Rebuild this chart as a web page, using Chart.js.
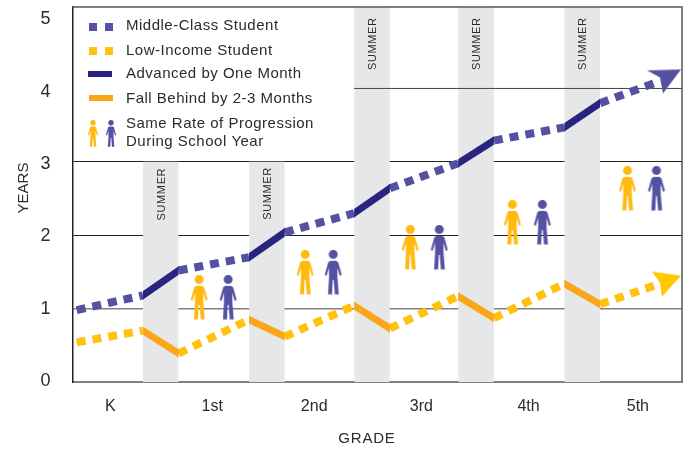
<!DOCTYPE html>
<html>
<head>
<meta charset="utf-8">
<style>
  html, body { margin: 0; padding: 0; background: #fff; }
  canvas { display: block; }
</style>
<script src="https://cdn.jsdelivr.net/npm/chart.js@4"></script>
</head>
<body>
<canvas id="gradeChart" width="688" height="449"></canvas>
<script>
const GRADE_LABELS = ['K', '1st', '2nd', '3rd', '4th', '5th'];
const GRADE_TICKS = [0.36, 1.33, 2.30, 3.32, 4.34, 5.38];
const YEAR_TICKS = [0, 1, 2, 3, 4, 5];

// x positions where the lines change between school year and summer
const LINE_X = [0.04, 0.67, 1.01, 1.68, 2.02, 2.68, 3.02, 3.67, 4.01, 4.68, 5.02, 5.55];
const MIDDLE_YEARS = [0.98, 1.18, 1.52, 1.70, 2.04, 2.30, 2.64, 2.98, 3.29, 3.47, 3.80, 4.08];
const LOW_YEARS = [0.54, 0.70, 0.39, 0.85, 0.62, 1.04, 0.73, 1.17, 0.87, 1.34, 1.06, 1.32];
const ARROW_X = 5.79;
const MIDDLE_ARROW_Y = 4.26;
const LOW_ARROW_Y = 1.45;

const SUMMER_START = [0.67, 1.68, 2.68, 3.67, 4.68];
const SUMMER_END = [1.01, 2.02, 3.02, 4.01, 5.02];
const SUMMER_TOP = [3, 3, 5.11, 5.11, 5.11];
const SUMMER_LABEL_Y = [2.56, 2.57, 4.61, 4.61, 4.61];

const LOW_PERSON_X = [1.205, 2.214, 3.214, 4.186, 5.281];
const MIDDLE_PERSON_X = [1.481, 2.481, 3.49, 4.471, 5.557];
const PERSON_Y = [1.154, 1.495, 1.835, 2.176, 2.639];

const X_MAX = 5.8;
const Y_MAX = 5.11;

const PURPLE = '#5450a2';
const NAVY = '#272580';
const GOLD = '#ffc20e';
const ORANGE = '#faa61a';
const BAND = '#e6e7e8';
const TEXT = '#2b2b2b';
const FONT = '"Liberation Sans", Arial, sans-serif';

function personIcon(color, scale) {
    const c = document.createElement('canvas');
    c.width = Math.ceil(20 * scale);
    c.height = Math.ceil(45 * scale);
    const g = c.getContext('2d');
    g.scale(scale, scale);
    g.fillStyle = color;
    g.beginPath();
    g.arc(10, 4.6, 4.5, 0, Math.PI * 2);
    g.fill();
    const body = [[7, 11], [13, 11], [15, 12.5], [18.5, 25], [16.6, 26], [14.2, 18], [14.2, 28], [15.6, 44.5], [11.6, 44.5],
        [10.5, 30], [9.5, 30], [8.8, 44.5], [4.8, 44.5], [5.8, 28], [5.8, 18], [3.4, 26], [1.5, 25], [5, 12.5]];
    g.beginPath();
    body.forEach((p, i) => i ? g.lineTo(p[0], p[1]) : g.moveTo(p[0], p[1]));
    g.closePath();
    g.fill();
    return c;
}

// tip of the arrow sits at the middle of the icon, so the point is the tip
function arrowIcon(color, corners) {
    const c = document.createElement('canvas');
    c.width = 90;
    c.height = 70;
    const g = c.getContext('2d');
    g.fillStyle = color;
    g.beginPath();
    g.moveTo(45, 35);
    corners.forEach(p => g.lineTo(45 + p[0], 35 + p[1]));
    g.closePath();
    g.fill();
    return c;
}

const pairs = (xs, ys) => xs.map((x, i) => ({ x: x, y: ys[i] }));

const datasets = [];

// summer bands
SUMMER_START.forEach((start, i) => {
    datasets.push({
        data: [{ x: start, y: SUMMER_TOP[i] }, { x: SUMMER_END[i], y: SUMMER_TOP[i] }],
        borderWidth: 0, pointRadius: 0, fill: 'origin', backgroundColor: BAND, order: 10
    });
});

// the 4-year line only runs right of the legend, on top of the bands
datasets.push({
    data: [{ x: SUMMER_START[2], y: 4 }, { x: X_MAX, y: 4 }],
    borderColor: '#444', borderWidth: 1, pointRadius: 0, order: 5
});

// top and right frame
datasets.push({
    data: [{ x: 0, y: Y_MAX }, { x: X_MAX, y: Y_MAX }, { x: X_MAX, y: 0 }],
    borderColor: '#555', borderWidth: 1.5, pointRadius: 0, clip: false, order: 5
});

function addStudentLine(years, dashColor, solidColor) {
    for (let i = 0; i < LINE_X.length - 1; i++) {
        const seg = [{ x: LINE_X[i], y: years[i] }, { x: LINE_X[i + 1], y: years[i + 1] }];
        if (i % 2 === 0) {
            datasets.push({ data: seg, borderColor: dashColor, borderWidth: 8, borderDash: [9, 7], pointRadius: 0, order: 2 });
        } else {
            // square caps clipped to the band give the upright cut at each end
            datasets.push({
                data: seg, borderColor: solidColor, borderWidth: 7, borderCapStyle: 'square', pointRadius: 0,
                clipX: [LINE_X[i], LINE_X[i + 1]], order: 1
            });
        }
    }
}
addStudentLine(MIDDLE_YEARS, PURPLE, NAVY);
addStudentLine(LOW_YEARS, GOLD, ORANGE);

datasets.push({
    data: [{ x: ARROW_X, y: MIDDLE_ARROW_Y }], showLine: false, pointRadius: 5,
    pointStyle: arrowIcon(PURPLE, [[-34, 1], [-21, 8], [-18, 24]]), clip: false, order: 0
});
datasets.push({
    data: [{ x: ARROW_X, y: LOW_ARROW_Y }], showLine: false, pointRadius: 5,
    pointStyle: arrowIcon('#ffc800', [[-29, -4], [-21, 7], [-19, 21]]), clip: false, order: 0
});

datasets.push({
    data: pairs(LOW_PERSON_X, PERSON_Y), showLine: false, pointRadius: 5,
    pointStyle: personIcon('#ffb90f', 1), order: 0
});
datasets.push({
    data: pairs(MIDDLE_PERSON_X, PERSON_Y), showLine: false, pointRadius: 5,
    pointStyle: personIcon(PURPLE, 1), order: 0
});

function drawText(ctx, text, x, y, size, spacing) {
    ctx.font = size + 'px ' + FONT;
    ctx.letterSpacing = spacing + 'px';
    ctx.fillStyle = TEXT;
    ctx.textBaseline = 'middle';
    ctx.fillText(text, x, y);
}

const legendPersonLow = personIcon('#ffb90f', 0.6);
const legendPersonMiddle = personIcon(PURPLE, 0.6);

const overlayPlugin = {
    id: 'gradeOverlay',
    beforeDatasetDraw(chart, args) {
        const clipX = chart.data.datasets[args.index].clipX;
        if (!clipX) return;
        const ctx = chart.ctx;
        const left = chart.scales.x.getPixelForValue(clipX[0]);
        const right = chart.scales.x.getPixelForValue(clipX[1]);
        ctx.save();
        ctx.beginPath();
        ctx.rect(left, 0, right - left, chart.height);
        ctx.clip();
    },
    afterDatasetDraw(chart, args) {
        if (chart.data.datasets[args.index].clipX) chart.ctx.restore();
    },
    afterDraw(chart) {
        const ctx = chart.ctx;
        ctx.save();

        // SUMMER labels
        SUMMER_START.forEach((start, i) => {
            const x = chart.scales.x.getPixelForValue((start + SUMMER_END[i]) / 2);
            const y = chart.scales.y.getPixelForValue(SUMMER_LABEL_Y[i]);
            ctx.save();
            ctx.translate(x + 1, y);
            ctx.rotate(-Math.PI / 2);
            ctx.textAlign = 'center';
            drawText(ctx, 'SUMMER', 0, 0, 11, 0.6);
            ctx.restore();
        });

        // axis titles
        ctx.textAlign = 'center';
        drawText(ctx, 'GRADE', 367, 439, 15, 0.8);
        ctx.save();
        ctx.translate(24, 188);
        ctx.rotate(-Math.PI / 2);
        drawText(ctx, 'YEARS', 0, 0, 15, 0);
        ctx.restore();

        // legend
        ctx.textAlign = 'left';
        ctx.fillStyle = PURPLE;
        ctx.fillRect(89, 23, 8, 8);
        ctx.fillRect(105, 23, 8, 8);
        ctx.fillStyle = GOLD;
        ctx.fillRect(89, 47, 8, 8);
        ctx.fillRect(105, 47, 8, 8);
        ctx.fillStyle = NAVY;
        ctx.fillRect(88, 71, 24, 6);
        ctx.fillStyle = ORANGE;
        ctx.fillRect(89, 95, 24, 6);
        ctx.drawImage(legendPersonLow, 87, 120);
        ctx.drawImage(legendPersonMiddle, 105, 120);
        drawText(ctx, 'Middle-Class Student', 126, 26, 15, 0.5);
        drawText(ctx, 'Low-Income Student', 126, 51, 15, 0.5);
        drawText(ctx, 'Advanced by One Month', 126, 74, 15, 0.5);
        drawText(ctx, 'Fall Behind by 2-3 Months', 126, 99, 15, 0.5);
        drawText(ctx, 'Same Rate of Progression', 126, 124, 15, 0.5);
        drawText(ctx, 'During School Year', 126, 142, 15, 0.5);
        ctx.restore();
    }
};

const noPadding = (axis) => {
    axis.paddingTop = 0;
    axis.paddingBottom = 0;
    axis.paddingLeft = 0;
    axis.paddingRight = 0;
};

new Chart(document.getElementById('gradeChart'), {
    type: 'line',
    data: { datasets: datasets },
    plugins: [overlayPlugin],
    options: {
        responsive: false,
        animation: false,
        layout: { padding: { top: 7, right: 6, left: 0, bottom: 0 } },
        plugins: { legend: { display: false }, tooltip: { enabled: false } },
        scales: {
            x: {
                type: 'linear',
                min: 0,
                max: X_MAX,
                afterBuildTicks: (axis) => { axis.ticks = GRADE_TICKS.map(v => ({ value: v })); },
                afterFit: (axis) => { axis.height = 67; noPadding(axis); },
                grid: { drawOnChartArea: false, drawTicks: false },
                border: { color: '#808080', width: 2 },
                ticks: {
                    autoSkip: false,
                    maxRotation: 0,
                    padding: 15,
                    color: TEXT,
                    font: { family: FONT, size: 16 },
                    callback: (value, index) => GRADE_LABELS[index]
                }
            },
            y: {
                min: 0,
                max: Y_MAX,
                afterBuildTicks: (axis) => { axis.ticks = YEAR_TICKS.map(v => ({ value: v })); },
                afterFit: (axis) => { axis.width = 0; noPadding(axis); },
                grid: {
                    drawTicks: false,
                    color: (c) => c.tick.value === 1 ? '#808080' : (c.tick.value === 2 || c.tick.value === 3) ? '#222' : 'transparent',
                    lineWidth: (c) => c.tick.value === 1 ? 1.5 : 1
                },
                border: { color: '#222', width: 1.5 },
                ticks: { display: false }
            },
            // tick labels sit slightly tighter than the grid lines in the original
            yLabels: {
                position: 'left',
                min: -0.014,
                max: 5.17,
                afterBuildTicks: (axis) => { axis.ticks = YEAR_TICKS.map(v => ({ value: v })); },
                afterFit: (axis) => { axis.width = 72.5; noPadding(axis); },
                grid: { display: false },
                border: { display: false },
                ticks: {
                    padding: 14,
                    color: TEXT,
                    font: { family: FONT, size: 18 }
                }
            }
        }
    }
});
</script>
</body>
</html>
